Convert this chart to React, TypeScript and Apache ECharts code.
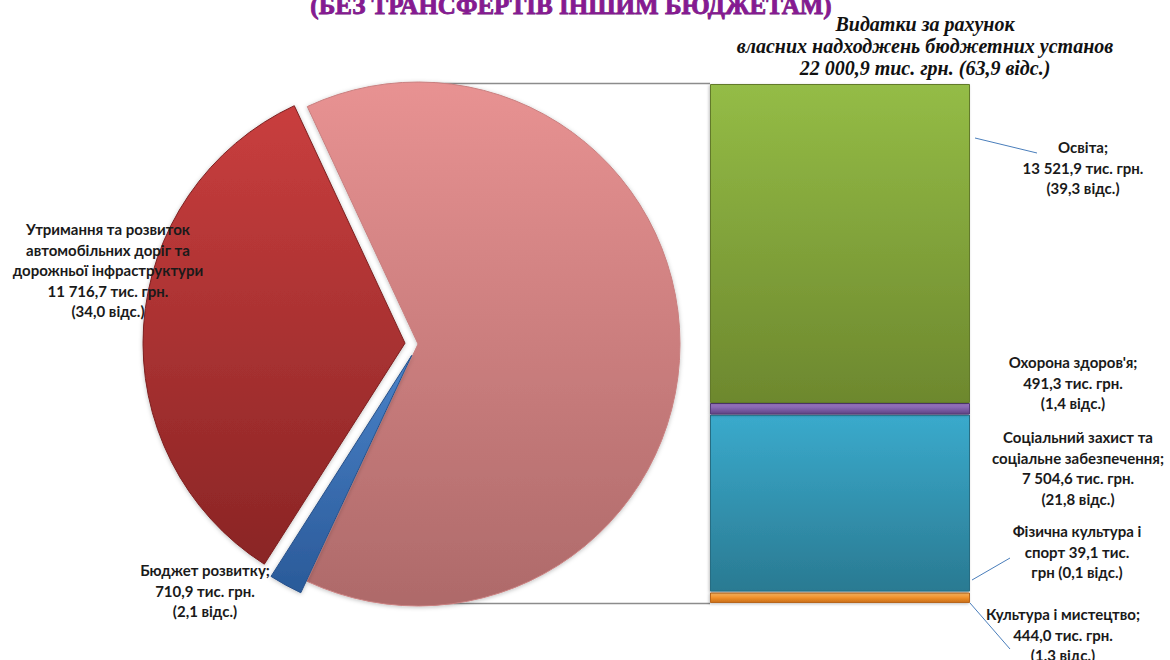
import React, { useEffect, useRef } from "react";
import * as echarts from "echarts";

const titleText = "(БЕЗ ТРАНСФЕРТІВ ІНШИМ БЮДЖЕТАМ)";

const pieNames = [
  "Видатки за рахунок власних надходжень бюджетних установ",
  "Бюджет розвитку",
  "Утримання та розвиток автомобільних доріг та дорожньої інфраструктури",
];
const pieValues = [22000.9, 710.9, 11716.7];
const piePercents = [63.9, 2.1, 34.0];
const pieLabelLines = [
  ["Видатки за рахунок", "власних надходжень бюджетних установ", "{v} тис. грн. ({p} відс.)"],
  ["Бюджет розвитку;", "{v} тис. грн.", "({p} відс.)"],
  ["Утримання та розвиток", "автомобільних доріг та", "дорожньої інфраструктури", "{v} тис. грн.", "({p} відс.)"],
];

const barNames = [
  "Культура і мистецтво",
  "Фізична культура і спорт",
  "Соціальний захист та соціальне забезпечення",
  "Охорона здоров'я",
  "Освіта",
];
const barValues = [444.0, 39.1, 7504.6, 491.3, 13521.9];
const barPercents = [1.3, 0.1, 21.8, 1.4, 39.3];
const barLabelLines = [
  ["Культура і мистецтво;", "{v} тис. грн.", "({p} відс.)"],
  ["Фізична культура і", "спорт {v} тис.", "грн ({p} відс.)"],
  ["Соціальний захист та", "соціальне забезпечення;", "{v} тис. грн.", "({p} відс.)"],
  ["Охорона здоров'я;", "{v} тис. грн.", "({p} відс.)"],
  ["Освіта;", "{v} тис. грн.", "({p} відс.)"],
];

function fmt(v: number): string {
  const [i, d] = v.toFixed(1).split(".");
  const withSp = i.replace(/\B(?=(\d{3})+(?!\d))/g, " ");
  return withSp + "," + d;
}
function fmtP(p: number): string {
  return p.toFixed(1).replace(".", ",");
}
function buildLabel(lines: string[], v: number, p: number): string {
  return lines.map((l) => l.replace("{v}", fmt(v)).replace("{p}", fmtP(p))).join("\n");
}

const grad = (top: string, bottom: string) =>
  new echarts.graphic.LinearGradient(0, 0, 0, 1, [
    { offset: 0, color: top },
    { offset: 1, color: bottom },
  ]);
const hgrad = (c1: string, c2: string, c3: string) =>
  new echarts.graphic.LinearGradient(0, 0, 0, 1, [
    { offset: 0, color: c1 },
    { offset: 0.5, color: c2 },
    { offset: 1, color: c3 },
  ]);

export default function App() {
  const ref = useRef<HTMLDivElement>(null);
  useEffect(() => {
    if (!ref.current) return;
    const chart = echarts.init(ref.current, undefined, { renderer: "svg" });

    const pieColors = [
      grad("#e89292", "#ae6a6a"),
      grad("#4a82c8", "#2a5a99"),
      grad("#c93e3e", "#8a2525"),
    ];
    const pieBorders = ["#c98080", "#26508a", "#7d2020"];
    const barColors = [
      hgrad("#f8b560", "#f0902a", "#c96e18"),
      hgrad("#e06060", "#c0504d", "#9a3a38"),
      grad("#3aaacc", "#2a7a92"),
      hgrad("#a07cc8", "#8060aa", "#5e4382"),
      grad("#94bc46", "#6d882e"),
    ];
    const barBorders = ["#b8661a", "#8a3533", "#256d83", "#553a78", "#627a2a"];

    const LH = 20.5;
    const labelFont = {
      fontFamily: "Lato, 'Open Sans', sans-serif",
      fontWeight: "bold" as const,
      fontSize: 15,
      fill: "#1a1a1a",
      align: "center" as const,
      verticalAlign: "middle" as const,
      lineHeight: LH,
    };

    const txt = (text: string, x: number, y: number, n: number) => ({
      type: "text",
      x,
      y: y + ((n - 1) * LH) / 2,
      z: 100,
      silent: true,
      style: { text, ...labelFont },
    });

    const barLabelPos = [
      [1063, 614],
      [1077, 531],
      [1078, 437],
      [1073, 362],
      [1083, 147],
    ];

    const graphics: any[] = [
      {
        type: "text",
        x: 571,
        y: 5,
        z: 100,
        silent: true,
        style: {
          text: titleText,
          fontFamily: "'Liberation Serif', 'DejaVu Serif', serif",
          fontWeight: "bold",
          fontSize: 25,
          fill: "#861a92",
          stroke: "#6e1078",
          lineWidth: 0.8,
          align: "center",
          verticalAlign: "middle",
        },
      },
      {
        type: "text",
        x: 925,
        y: 46,
        z: 100,
        silent: true,
        style: {
          text: buildLabel(pieLabelLines[0], pieValues[0], piePercents[0]),
          fontFamily: "'Liberation Serif', 'DejaVu Serif', serif",
          fontWeight: "bold",
          fontStyle: "italic",
          fontSize: 20,
          fill: "#111",
          align: "center",
          verticalAlign: "middle",
          lineHeight: 22,
        },
      },
      // connector lines pie -> bar
      {
        type: "line",
        silent: true,
        shape: { x1: 418, y1: 83.5, x2: 710, y2: 83.5 },
        style: { stroke: "#8c8c8c", lineWidth: 1.5 },
        z: 0,
      },
      {
        type: "line",
        silent: true,
        shape: { x1: 418, y1: 603.5, x2: 710, y2: 603.5 },
        style: { stroke: "#8c8c8c", lineWidth: 1.5 },
        z: 0,
      },
      // leader lines
      {
        type: "line",
        silent: true,
        shape: { x1: 975, y1: 138, x2: 1037, y2: 153 },
        style: { stroke: "#4a7ebb", lineWidth: 1 },
      },
      {
        type: "line",
        silent: true,
        shape: { x1: 972, y1: 580, x2: 1010, y2: 558 },
        style: { stroke: "#4a7ebb", lineWidth: 1 },
      },
      {
        type: "line",
        silent: true,
        shape: { x1: 970, y1: 603, x2: 1010, y2: 649 },
        style: { stroke: "#4a7ebb", lineWidth: 1 },
      },
      txt(buildLabel(pieLabelLines[2], pieValues[2], piePercents[2]), 108, 229, 5),
      txt(buildLabel(pieLabelLines[1], pieValues[1], piePercents[1]), 205, 570, 3),
    ];
    barNames.forEach((_, i) => {
      graphics.push(
        txt(
          buildLabel(barLabelLines[i], barValues[i], barPercents[i]),
          barLabelPos[i][0],
          barLabelPos[i][1],
          barLabelLines[i].length
        )
      );
    });

    const barTotal = barValues.reduce((a, b) => a + b, 0);

    chart.setOption({
      animation: false,
      backgroundColor: "#ffffff",
      grid: { left: 710, top: 84, width: 260, height: 519 },
      xAxis: { type: "category", data: ["Власні надходження"], show: false },
      yAxis: { type: "value", min: 0, max: barTotal, show: false },
      series: [
        {
          type: "pie",
          center: [418, 344],
          radius: 262,
          startAngle: 115,
          clockwise: true,
          selectedMode: "multiple",
          selectedOffset: 13,
          avoidLabelOverlap: false,
          label: { show: false },
          labelLine: { show: false },
          emphasis: { disabled: true },
          z: 2,
          data: pieNames.map((name, i) => ({
            name,
            value: pieValues[i],
            selected: i !== 0,
            itemStyle: {
              color: pieColors[i],
              borderColor: pieBorders[i],
              borderWidth: 1,
              shadowBlur: 4,
              shadowColor: "rgba(0,0,0,0.25)",
              shadowOffsetY: 1,
            },
          })),
        },
        ...barNames.map((name, i) => ({
          type: "bar",
          name,
          stack: "own",
          barWidth: "100%",
          barCategoryGap: "0%",
          data: [barValues[i]],
          emphasis: { disabled: true },
          itemStyle: {
            color: barColors[i],
            borderColor: barBorders[i],
            borderWidth: 1,
            shadowBlur: 3,
            shadowColor: "rgba(0,0,0,0.25)",
            shadowOffsetX: -1,
            shadowOffsetY: 1,
          },
        })),
      ],
      graphic: graphics,
    });
    return () => chart.dispose();
  }, []);
  return (
    <div
      ref={ref}
      style={{ position: "fixed", left: 0, top: 0, width: 1170, height: 660 }}
    />
  );
}
